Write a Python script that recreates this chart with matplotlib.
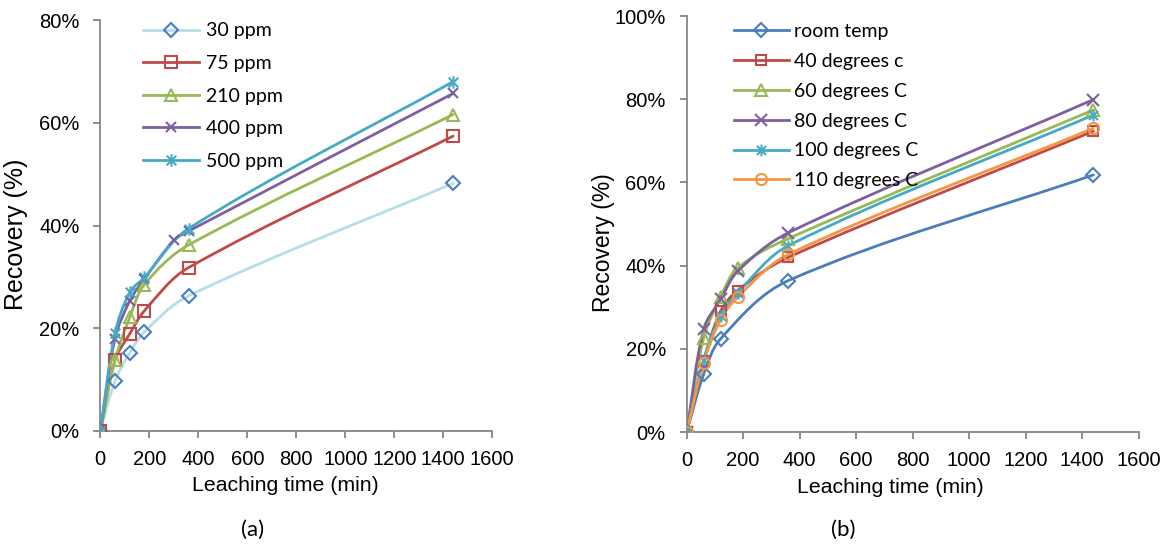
import numpy as np
import matplotlib
matplotlib.use('Agg')
import matplotlib.pyplot as plt
from matplotlib.path import Path
from matplotlib.patches import PathPatch
from matplotlib.lines import Line2D

# panel (a) - effect of concentration
t_a = [0, 60, 120, 180, 360, 1440]
t_400 = [0, 60, 120, 180, 300, 360, 1440]
ppm30 = [0, 9.7, 15.2, 19.3, 26.3, 48.2]
ppm75 = [0, 13.8, 18.9, 23.4, 31.8, 57.4]
ppm210 = [0, 13.8, 22.1, 28.5, 36.2, 61.6]
ppm400 = [0, 18.0, 25.3, 29.6, 37.1, 38.9, 65.7]
ppm500 = [0, 19.0, 27.0, 29.9, 39.4, 68.0]

# panel (b) - effect of temperature
t_b = [0, 60, 120, 180, 360, 1440]
t_room = [0, 60, 120, 360, 1440]
room = [0, 13.9, 22.4, 36.4, 61.8]
deg40 = [0, 17.0, 29.0, 34.0, 42.0, 72.3]
deg60 = [0, 22.6, 32.4, 39.4, 46.5, 77.4]
deg80 = [0, 24.7, 31.9, 38.6, 47.9, 79.9]
deg100 = [0, 17.4, 28.0, 33.4, 44.8, 76.2]
deg110 = [0, 16.7, 27.0, 32.4, 42.7, 73.0]

blue = '#4A7EBB'
red = '#BE4B48'
green = '#98B954'
purple = '#7D60A0'
teal = '#46AAC5'
orange = '#F59645'
lightblue = '#B7DEE8'

# excel style "star" marker: an x with a vertical bar
star = Path([(-1, -1), (1, 1), (-1, 1), (1, -1), (0, -1.3), (0, 1.3)],
            [Path.MOVETO, Path.LINETO, Path.MOVETO, Path.LINETO, Path.MOVETO, Path.LINETO])

tick_font = 'Liberation Sans'
leg_font = 'Lato'


def smooth_path(x, y, sx, sy):
    # smooth line through the points (bezier), worked out in pixel units
    p = np.column_stack([np.asarray(x, float) * sx, np.asarray(y, float) * sy])
    n = len(p)
    tang = []
    for i in range(n):
        if i == 0:
            d = p[1] - p[0]
        elif i == n - 1:
            d = p[-1] - p[-2]
        else:
            d = p[i + 1] - p[i - 1]
        tang.append(d / np.hypot(*d))
    verts = [p[0]]
    codes = [Path.MOVETO]
    for i in range(n - 1):
        L = np.hypot(*(p[i + 1] - p[i])) / 3
        verts += [p[i] + tang[i] * L, p[i + 1] - tang[i + 1] * L, p[i + 1]]
        codes += [Path.CURVE4] * 3
    verts = np.array(verts) / [sx, sy]
    return Path(verts, codes)


def series(ax, x, y, lc, mc, marker, ms, label, sx, sy):
    ax.add_patch(PathPatch(smooth_path(x, y, sx, sy), fill=False, edgecolor=lc, lw=2.0,
                           capstyle='round', joinstyle='round', zorder=2))
    ax.plot(x, y, ls='none', marker=marker, ms=ms, mfc='none', mec=mc, mew=1.5, zorder=3)
    return Line2D([], [], color=lc, lw=2.0, marker=marker, ms=ms, mfc='none', mec=mc, mew=1.5, label=label)


def style_axes(ax, ymax, ystep, ylab_size):
    ax.set_xlim(0, 1600)
    ax.set_ylim(0, ymax)
    ax.set_xticks(np.arange(0, 1601, 200))
    ax.set_yticks(np.arange(0, ymax + 0.1, ystep))
    ax.set_yticklabels(['%d%%' % v for v in np.arange(0, ymax + 0.1, ystep)])
    for s in ['top', 'right']:
        ax.spines[s].set_visible(False)
    for s in ['left', 'bottom']:
        ax.spines[s].set_color('#868686')
        ax.spines[s].set_linewidth(1.3)
    ax.tick_params(direction='out', length=5, width=1.3, color='#868686', labelsize=14.5)
    ax.tick_params(axis='x', pad=9)
    ax.tick_params(axis='y', pad=10)
    for lab in ax.get_xticklabels() + ax.get_yticklabels():
        lab.set_family(tick_font)
    ax.set_xlabel('Leaching time (min)', family=tick_font, fontsize=15.3)
    ax.set_ylabel('Recovery (%)', family=tick_font, fontsize=ylab_size)


fig = plt.figure(figsize=(11.69, 5.48), dpi=100)
ax1 = fig.add_axes([100.3 / 1169, 1 - 431 / 548, 392 / 1169, 411 / 548])
ax2 = fig.add_axes([686.7 / 1169, 1 - 432 / 548, 451.8 / 1169, 416 / 548])

sxa, sya = 392 / 1600, 411 / 80
h = []
h.append(series(ax1, t_a, ppm30, lightblue, blue, 'D', 7.5, '30 ppm', sxa, sya))
h.append(series(ax1, t_a, ppm75, red, red, 's', 8, '75 ppm', sxa, sya))
h.append(series(ax1, t_a, ppm210, green, green, '^', 8.5, '210 ppm', sxa, sya))
h.append(series(ax1, t_400, ppm400, purple, purple, 'x', 7.5, '400 ppm', sxa, sya))
h.append(series(ax1, t_a, ppm500, teal, teal, star, 9, '500 ppm', sxa, sya))
style_axes(ax1, 80, 20, 18)
ax1.xaxis.set_label_coords(0.472, -0.11)
ax1.yaxis.set_label_coords(-0.184, 0.479)
ax1.legend(handles=h, loc='upper left', bbox_to_anchor=(0.122, 0.959),
           bbox_transform=fig.transFigure, frameon=False, borderpad=0, borderaxespad=0,
           handlelength=2.9, handletextpad=0.35, labelspacing=0.8,
           prop={'family': leg_font, 'size': 14})

sxb, syb = 451.8 / 1600, 416 / 100
h = []
h.append(series(ax2, t_room, room, blue, blue, 'D', 7, 'room temp', sxb, syb))
h.append(series(ax2, t_b, deg40, red, red, 's', 7.5, '40 degrees c', sxb, syb))
h.append(series(ax2, t_b, deg60, green, green, '^', 8, '60 degrees C', sxb, syb))
h.append(series(ax2, t_b, deg80, purple, purple, 'x', 8, '80 degrees C', sxb, syb))
h.append(series(ax2, t_b, deg100, teal, teal, star, 8.5, '100 degrees C', sxb, syb))
h.append(series(ax2, t_b, deg110, orange, orange, 'o', 8, '110 degrees C', sxb, syb))
style_axes(ax2, 100, 20, 16.5)
ax2.xaxis.set_label_coords(0.4515, -0.11)
ax2.yaxis.set_label_coords(-0.159, 0.4555)
ax2.legend(handles=h, loc='upper left', bbox_to_anchor=(0.628, 0.958),
           bbox_transform=fig.transFigure, frameon=False, borderpad=0, borderaxespad=0,
           handlelength=2.8, handletextpad=0.3, labelspacing=0.66,
           prop={'family': leg_font, 'size': 14})

fig.text(253 / 1169, 1 - 530 / 548, '(a)', family=leg_font, fontsize=16, ha='center', va='center')
fig.text(843 / 1169, 1 - 530 / 548, '(b)', family=leg_font, fontsize=16, ha='center', va='center')

fig.savefig('out.png', dpi=100)
